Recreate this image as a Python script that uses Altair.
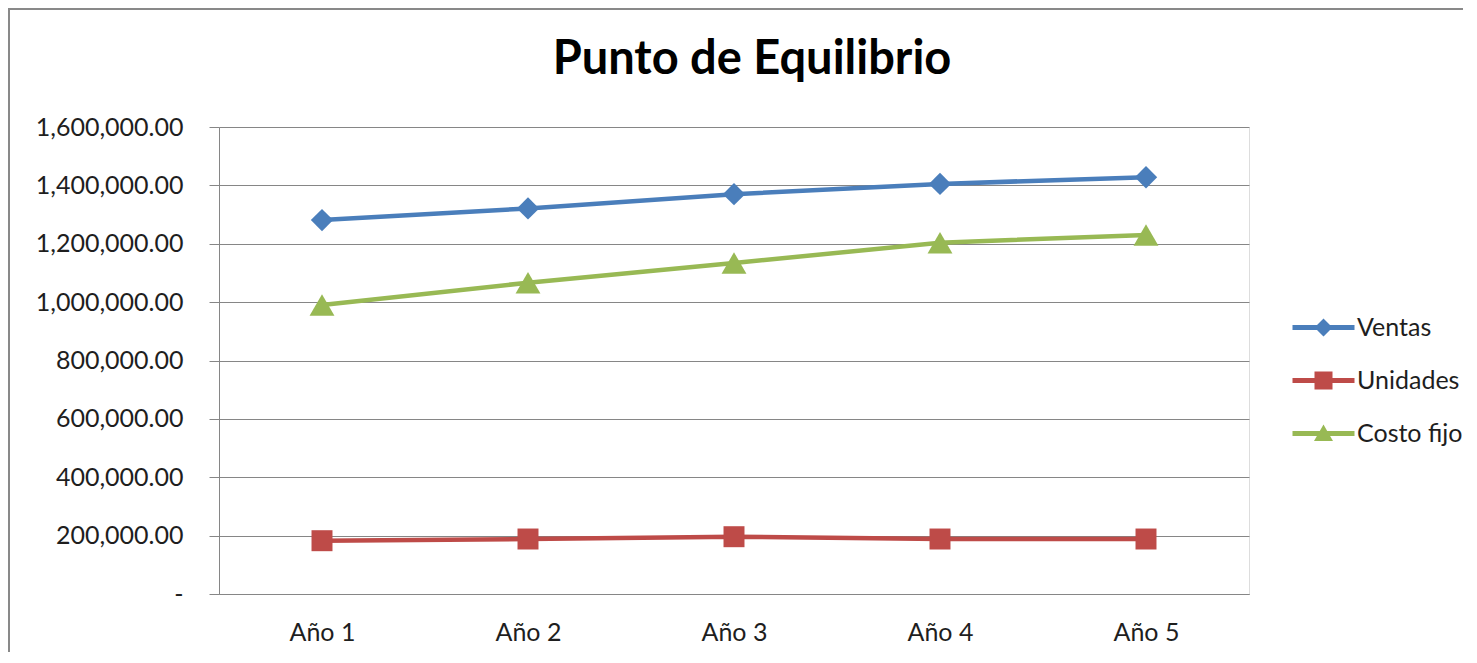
import altair as alt
import pandas as pd

anios = ["Año 1", "Año 2", "Año 3", "Año 4", "Año 5"]
series = ["Ventas", "Unidades", "Costo fijo"]
ventas = [1281000, 1321000, 1370000, 1405000, 1428000]
unidades = [182600, 188400, 196300, 188400, 188400]
costo_fijo = [990000, 1066500, 1134000, 1203600, 1230000]
y_ticks = [0, 200000, 400000, 600000, 800000, 1000000, 1200000, 1400000, 1600000]
colores = ["#4A7EBB", "#BE4B48", "#98B954"]
marcadores = ["diamond", "square", "triangle-up"]
tamanos = [500, 440, 620]

legend_paths = [
    "M-3.1,-0.25 L-0.65,-0.25 L0,-0.9 L0.65,-0.25 L3.1,-0.25 L3.1,0.25 L0.65,0.25 L0,0.9 L-0.65,0.25 L-3.1,0.25 Z",
    "M-3.1,-0.25 L-0.9,-0.25 L-0.9,-0.9 L0.9,-0.9 L0.9,-0.25 L3.1,-0.25 L3.1,0.25 L0.9,0.25 L0.9,0.9 L-0.9,0.9 L-0.9,0.25 L-3.1,0.25 Z",
    "M-3.1,-0.25 L-0.37,-0.25 L0,-0.9 L0.37,-0.25 L3.1,-0.25 L3.1,0.25 L0.66,0.25 L0.95,0.75 L-0.95,0.75 L-0.66,0.25 L-3.1,0.25 Z",
]

rows = []
for s, vals in zip(series, [ventas, unidades, costo_fijo]):
    for a, v in zip(anios, vals):
        rows.append({"anio": a, "serie": s, "valor": v})
df = pd.DataFrame(rows)

FONT = "Lato"
GRID = "#868686"
TXT = "#1e1e1e"

x_enc = alt.X(
    "anio:N",
    sort=anios,
    scale=alt.Scale(type="point", padding=0.5),
    axis=alt.Axis(
        title=None, labelAngle=0, ticks=False, grid=False,
        domainColor=GRID, domainWidth=1, labelPadding=26,
        labelFontSize=25, labelFont=FONT, labelColor=TXT,
    ),
)
y_enc = alt.Y(
    "valor:Q",
    scale=alt.Scale(domain=[0, 1600000], nice=False, zero=True),
    axis=alt.Axis(
        title=None, values=y_ticks,
        labelExpr="datum.value == 0 ? '-\u00a0\u00a0\u00a0' : format(datum.value, ',.2f')",
        tickSize=10, tickColor=GRID, tickWidth=1,
        domainColor=GRID, domainWidth=1,
        gridColor=GRID, gridWidth=1, grid=True,
        labelPadding=26, labelFontSize=25, labelFont=FONT, labelColor=TXT,
    ),
)

base = alt.Chart(df)

line_layers = []
point_layers = []
for s, c, m, sz in zip(series, colores, marcadores, tamanos):
    sub = base.transform_filter(alt.datum.serie == s)
    line_layers.append(
        sub.mark_line(color=c, strokeWidth=4.5).encode(x=x_enc, y=y_enc)
    )
    point_layers.append(
        sub.mark_point(shape=m, filled=True, color=c, size=sz, opacity=1, strokeWidth=0).encode(x=x_enc, y=y_enc)
    )

leg = alt.Legend(
    title=None, orient="none", legendX=1092, legendY=188, padding=0,
    symbolSize=400, labelOffset=21, rowPadding=27,
    labelFontSize=25, labelFont=FONT, labelColor=TXT,
    symbolStrokeWidth=0, symbolOpacity=1,
)
legend_layer = base.transform_filter("false").mark_point(filled=True, size=400, opacity=1, strokeWidth=0).encode(
    color=alt.Color("serie:N", scale=alt.Scale(domain=series, range=colores), legend=leg),
    shape=alt.Shape("serie:N", scale=alt.Scale(domain=series, range=legend_paths), legend=leg),
)

one = pd.DataFrame({"k": [0]})
frame_top = alt.Chart(one).mark_rule(stroke="#898989", strokeWidth=2).encode(
    x=alt.value(-211), x2=alt.value(1300), y=alt.value(-118)
)
frame_left = alt.Chart(one).mark_rule(stroke="#898989", strokeWidth=2).encode(
    x=alt.value(-210), y=alt.value(-119), y2=alt.value(600)
)

chart = alt.layer(
    frame_top, frame_left, *line_layers, *point_layers, legend_layer
).properties(
    width=1030,
    height=467,
    title=alt.Title(
        "Punto de Equilibrio", fontSize=47, font=FONT, fontWeight="bold",
        color="black", anchor="middle", dx=18, offset=-77,
    ),
    autosize=alt.AutoSizeParams(type="none"),
    padding={"left": 211, "top": 119, "right": 214, "bottom": 58},
).configure_view(stroke=None).configure(background="white")

chart.save("out.html", embed_options={"renderer": "svg", "actions": False})
